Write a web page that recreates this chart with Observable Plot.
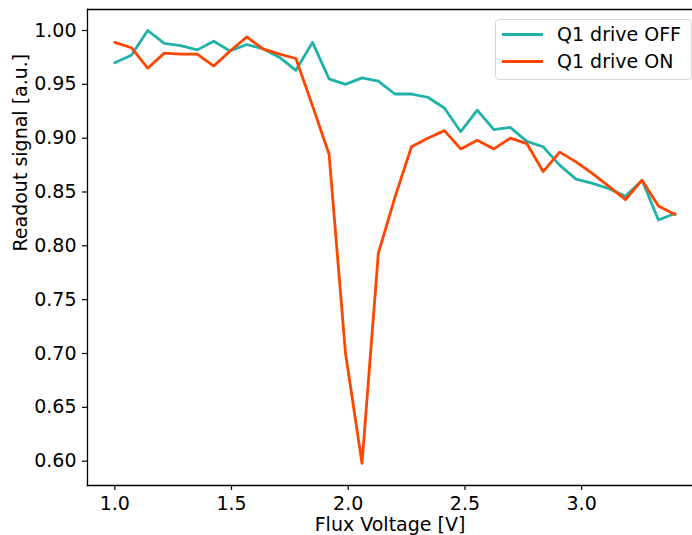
<!DOCTYPE html>
<html>
<head>
<meta charset="utf-8">
<script src="https://cdn.jsdelivr.net/npm/d3@7"></script>
<script src="https://cdn.jsdelivr.net/npm/@observablehq/plot@0.6"></script>
<style>
  body { margin: 0; background: #fff; }
  #chart { position: relative; width: 692px; height: 535px; font-family: "DejaVu Sans", sans-serif; }
  #chart svg { display: block; }
  .legend {
    position: absolute; left: 495px; top: 19px; width: 197px; height: 61px;
    box-sizing: border-box; border: 1px solid #d6d6d6; border-radius: 4px;
    background: rgba(255, 255, 255, 0.8); font-size: 19px; color: #000;
  }
  .legend .row { position: absolute; left: 0; height: 24px; }
  .legend .swatch { position: absolute; left: 6px; top: 11px; width: 41px; height: 3px; }
  .legend .name { position: absolute; left: 61px; top: 0; white-space: nowrap; line-height: 24px; }
</style>
</head>
<body>
<div id="chart"></div>
<script>
// Flux bias sweep (V)
const flux = [1.000, 1.071, 1.141, 1.212, 1.282, 1.353, 1.424, 1.494, 1.565, 1.635,
              1.706, 1.776, 1.847, 1.918, 1.988, 2.059, 2.129, 2.200, 2.271, 2.341,
              2.412, 2.482, 2.553, 2.624, 2.694, 2.765, 2.835, 2.906, 2.976, 3.047,
              3.118, 3.188, 3.259, 3.329, 3.400];

// Normalised readout signal with the Q1 drive switched off
const driveOff = [0.970, 0.977, 1.000, 0.988, 0.986, 0.982, 0.990, 0.981, 0.987, 0.983,
                  0.975, 0.963, 0.989, 0.955, 0.950, 0.956, 0.953, 0.941, 0.941, 0.938,
                  0.928, 0.906, 0.926, 0.908, 0.910, 0.897, 0.892, 0.875, 0.862, 0.858,
                  0.853, 0.846, 0.861, 0.824, 0.830];

// Normalised readout signal with the Q1 drive switched on
const driveOn = [0.989, 0.984, 0.965, 0.979, 0.978, 0.978, 0.967, 0.981, 0.994, 0.983,
                 0.978, 0.974, 0.930, 0.885, 0.701, 0.598, 0.793, 0.845, 0.892, 0.900,
                 0.907, 0.890, 0.898, 0.890, 0.900, 0.895, 0.869, 0.887, 0.878, 0.867,
                 0.855, 0.843, 0.861, 0.837, 0.829];

const seriesNames = ["Q1 drive OFF", "Q1 drive ON"];
const seriesColors = ["#20B2AA", "#FF4500"];

const xTicks = [1.0, 1.5, 2.0, 2.5, 3.0];
const yTicks = [0.60, 0.65, 0.70, 0.75, 0.80, 0.85, 0.90, 0.95, 1.00];

const xLabel = "Flux Voltage [V]";
const yLabel = "Readout signal [a.u.]";

const spine = {stroke: "#000", strokeWidth: 1.3};

const plot = Plot.plot({
  width: 692,
  height: 535,
  marginLeft: 87,
  marginRight: 0,
  marginTop: 9,
  marginBottom: 50,
  style: {fontFamily: "DejaVu Sans", fontSize: "19px", color: "#000", background: "#fff", overflow: "visible"},
  x: {domain: [0.883, 3.475]},
  y: {domain: [0.5774, 1.0195]},
  marks: [
    Plot.line(flux, {x: flux, y: driveOff, stroke: seriesColors[0], strokeWidth: 2.8}),
    Plot.line(flux, {x: flux, y: driveOn, stroke: seriesColors[1], strokeWidth: 2.8}),
    Plot.frame({anchor: "left", ...spine}),
    Plot.frame({anchor: "top", ...spine}),
    Plot.frame({anchor: "bottom", ...spine}),
    Plot.axisX({ticks: xTicks, tickFormat: d3.format(".1f"), tickSize: 5, tickPadding: 6, label: null, stroke: "#000", strokeWidth: 1.2}),
    Plot.axisY({ticks: yTicks, tickFormat: d3.format(".2f"), tickSize: 5, tickPadding: 6, label: null, stroke: "#000", strokeWidth: 1.2}),
    Plot.text([xLabel], {text: d => d, frameAnchor: "bottom", lineAnchor: "middle", dy: 39, fill: "#000"}),
    Plot.text([yLabel], {text: d => d, frameAnchor: "left", dx: -67, dy: 4, rotate: -90, fill: "#000"})
  ]
});

const chart = document.getElementById("chart");
chart.appendChild(plot);

// Legend box in the upper right of the plotting area
const legend = document.createElement("div");
legend.className = "legend";
seriesNames.forEach((name, i) => {
  const row = document.createElement("div");
  row.className = "row";
  row.style.top = (2 + i * 27) + "px";
  row.style.width = "100%";
  const sw = document.createElement("div");
  sw.className = "swatch";
  sw.style.background = seriesColors[i];
  const label = document.createElement("div");
  label.className = "name";
  label.textContent = name;
  row.appendChild(sw);
  row.appendChild(label);
  legend.appendChild(row);
});
chart.appendChild(legend);
</script>
</body>
</html>
